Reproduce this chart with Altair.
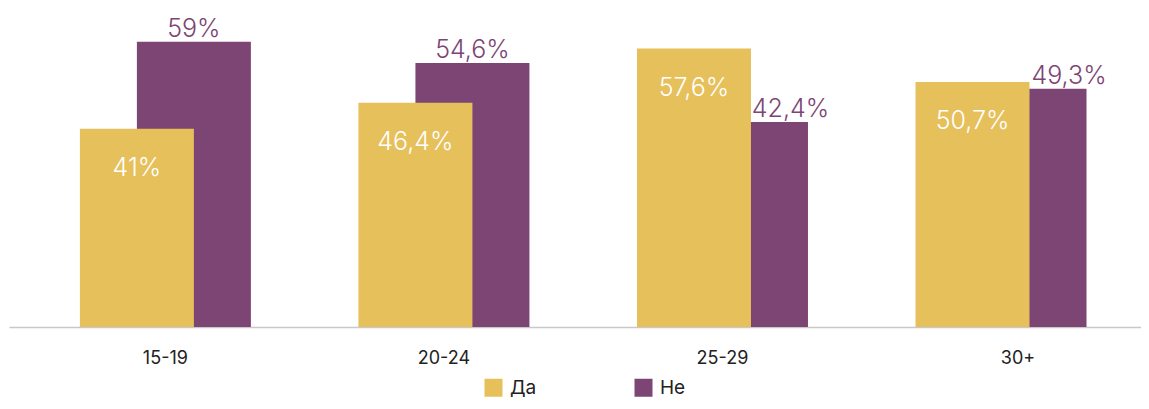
import altair as alt
import pandas as pd

ages = ["15-19", "20-24", "25-29", "30+"]
da = [41, 46.4, 57.6, 50.7]
ne = [59, 54.6, 42.4, 49.3]
series = ["Да", "Не"]
colors = ["#E6C05B", "#7C4573"]


def fmt(v):
    s = f"{v:.1f}".rstrip("0").rstrip(".")
    return s.replace(".", ",") + "%"


df = pd.DataFrame({
    "age": ages,
    "da": da,
    "ne": ne,
    "da_lbl": [fmt(v) for v in da],
    "ne_lbl": [fmt(v) for v in ne],
    "s_da": [series[0]] * len(ages),
    "s_ne": [series[1]] * len(ages),
})

FONT = "Inter"

x = alt.X(
    "age:N",
    sort=ages,
    title=None,
    scale=alt.Scale(paddingInner=0, paddingOuter=0.032, align=0.96),
    axis=alt.Axis(
        labelAngle=0,
        ticks=False,
        domainColor="#C8C8C8",
        domainWidth=1.5,
        labelFont=FONT,
        labelFontSize=18,
        labelColor="#222222",
        labelPadding=22,
        labelOffset={"condition": {"test": "datum.value === '30+'", "value": 17}, "value": 0},
        grid=False,
    ),
)
yscale = alt.Scale(domain=[0, 60], nice=False)
color_scale = alt.Scale(domain=series, range=colors)
legend = alt.Legend(
    title=None,
    orient="none",
    direction="horizontal",
    legendX=475,
    legendY=341,
    symbolType="square",
    symbolSize=324,
    symbolStrokeWidth=0,
    symbolOpacity=1,
    labelFont=FONT,
    labelFontSize=19,
    labelColor="#222222",
    labelOffset=7,
    columnPadding=97,
    padding=0,
)

base = alt.Chart(df)

bar_ne = base.mark_bar(size=114, xOffset=28.5).encode(
    x=x,
    y=alt.Y("ne:Q", scale=yscale, axis=None),
    color=alt.Color("s_ne:N", scale=color_scale, legend=legend),
)
bar_da = base.mark_bar(size=114, xOffset=-28.5).encode(
    x=x,
    y=alt.Y("da:Q", scale=yscale, axis=None),
    color=alt.Color("s_da:N", scale=color_scale, legend=legend),
)
lbl_da = base.mark_text(
    xOffset=-28.5, dy=47, baseline="alphabetic", align="center",
    font=FONT, fontSize=25, fontWeight=300, color="white",
).encode(x=x, y=alt.Y("da:Q", scale=yscale, axis=None), text="da_lbl:N")

lbl_ne_tall = base.transform_filter("datum.ne >= datum.da").mark_text(
    xOffset=28.5, dy=-5, baseline="alphabetic", align="center",
    font=FONT, fontSize=25, fontWeight=300, color="#7C4573",
).encode(x=x, y=alt.Y("ne:Q", scale=yscale, axis=None), text="ne_lbl:N")

lbl_ne_short = base.transform_filter("datum.ne < datum.da").mark_text(
    xOffset=68, dy=-5, baseline="alphabetic", align="center",
    font=FONT, fontSize=25, fontWeight=300, color="#7C4573",
).encode(x=x, y=alt.Y("ne:Q", scale=yscale, axis=None), text="ne_lbl:N")

chart = alt.layer(bar_ne, bar_da, lbl_da, lbl_ne_tall, lbl_ne_short).properties(
    width=1132,
    height=290,
    padding={"left": 1, "top": 29, "right": 0, "bottom": 74},
    autosize=alt.AutoSizeParams(type="none"),
).configure(background="white").configure_view(stroke=None, strokeWidth=0)

chart.save("out.html", embed_options={"renderer": "svg", "actions": False})
